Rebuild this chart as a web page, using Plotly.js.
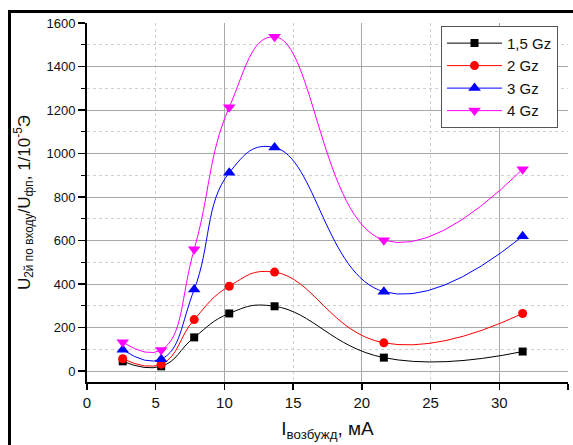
<!DOCTYPE html>
<html>
<head>
<meta charset="utf-8">
<script src="https://cdn.plot.ly/plotly-3.0.1.min.js"></script>
<style>
  html, body { margin: 0; padding: 0; background: #fff; overflow: hidden; }
  #chart { width: 573px; height: 445px; }
  #frame { position: absolute; left: 8px; top: 10px; width: 700px; height: 600px;
           border-left: 3px solid #000; border-top: 3px solid #000; pointer-events: none; }
</style>
</head>
<body>
<div id="chart"></div>
<div id="frame"></div>
<script>
// Excitation current, mA
const current = [2.6, 5.4, 7.8, 10.35, 13.65, 21.6, 31.7];
// Series values (1/10^-5 Э)
const g15 = [45, 22, 155, 265, 298, 62, 90];
const g2  = [57, 32, 237, 390, 455, 130, 265];
const g3  = [98, 55, 375, 912, 1028, 365, 620];
const g4  = [133, 97, 560, 1213, 1537, 602, 928];
const seriesNames = ['1,5 Gz', '2 Gz', '3 Gz', '4 Gz'];

const FONT = '"Liberation Sans", Arial, sans-serif';

function mk(name, y, color, symbol, size) {
  return {
    x: current, y: y, name: name, type: 'scatter', mode: 'lines+markers',
    line: {color: color, width: 1, shape: 'spline', smoothing: 1.3},
    marker: {color: color, symbol: symbol, size: size, line: {width: 0}}
  };
}

const traces = [
  mk(seriesNames[0], g15, '#000000', 'square', 8),
  mk(seriesNames[1], g2, '#ff0000', 'circle', 9),
  mk(seriesNames[2], g3, '#0000ff', 'triangle-up', 11),
  mk(seriesNames[3], g4, '#ff00ff', 'triangle-down', 11),
  {x: [], y: [], xaxis: 'x2', showlegend: false, type: 'scatter', mode: 'markers'}
];

const layout = {
  width: 573, height: 445,
  margin: {l: 87, r: 5, t: 23, b: 63},
  paper_bgcolor: '#fff', plot_bgcolor: '#fff',
  font: {family: FONT, color: '#111'},
  showlegend: true,
  legend: {
    x: 0.736, y: 0.992, xanchor: 'left', yanchor: 'top',
    bgcolor: '#fff', bordercolor: '#555', borderwidth: 1,
    itemwidth: 55,
    font: {family: FONT, size: 15, color: '#111'}
  },
  xaxis: {
    range: [0, 35], tick0: 0, dtick: 5,
    ticks: 'outside', ticklen: 6, tickwidth: 1.5, tickcolor: '#000',
    showline: true, linecolor: '#000', linewidth: 2,
    showgrid: true, gridcolor: '#cfcfcf', griddash: 'dot', gridwidth: 1,
    zeroline: false,
    tickfont: {family: FONT, size: 15, color: '#111'},
    title: {text: 'I<sub>возбужд</sub>, мА', font: {family: FONT, size: 19, color: '#111'}, standoff: 12}
  },
  xaxis2: {
    overlaying: 'x', range: [0, 35], tick0: 0, dtick: 10,
    showgrid: true, gridcolor: '#a8a8a8', gridwidth: 1,
    showticklabels: false, ticks: '', showline: false, zeroline: false
  },
  yaxis: {
    range: [-50, 1600], tick0: 0, dtick: 200,
    ticks: 'outside', ticklen: 7, tickwidth: 1.5, tickcolor: '#000',
    showline: true, linecolor: '#000', linewidth: 2,
    showgrid: true, gridcolor: '#a8a8a8', gridwidth: 1,
    zeroline: false,
    minor: {dtick: 100, ticks: 'outside', ticklen: 4, tickwidth: 1, tickcolor: '#000',
            showgrid: true, gridcolor: '#cfcfcf', griddash: 'dot', gridwidth: 1},
    tickfont: {family: FONT, size: 13, color: '#111'},
    title: {text: 'U<sub>2й по входу</sub>/U<sub>фп</sub>, 1/10<sup>-5</sup>Э',
            font: {family: FONT, size: 17, color: '#111'}, standoff: 12}
  }
};

Plotly.newPlot('chart', traces, layout, {staticPlot: true, displayModeBar: false});
</script>
</body>
</html>
